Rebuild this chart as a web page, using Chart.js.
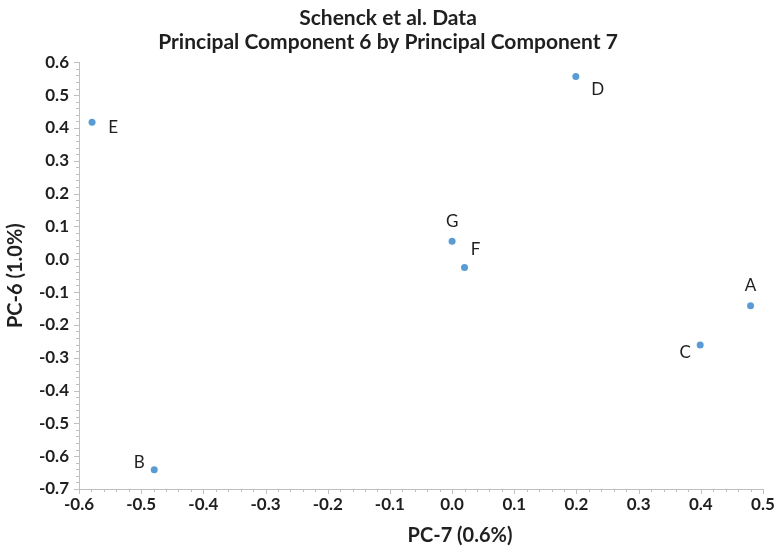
<!DOCTYPE html>
<html>
<head>
<meta charset="utf-8">
<script src="https://cdn.jsdelivr.net/npm/chart.js@4.4.1/dist/chart.umd.min.js"></script>
<style>
  html, body { margin: 0; padding: 0; background: #ffffff; }
  #wrap { width: 776px; height: 547px; position: relative; }
</style>
</head>
<body>
<div id="wrap"><canvas id="c" width="776" height="547"></canvas></div>
<script>
// Sample labels and their principal component scores
const sampleLabels = ['A', 'B', 'C', 'D', 'E', 'F', 'G'];
const pc7Scores = [0.480, -0.479, 0.399, 0.199, -0.579, 0.020, 0.000];
const pc6Scores = [-0.142, -0.641, -0.261, 0.557, 0.417, -0.025, 0.055];

const xTickRange = { min: -0.6, max: 0.5, step: 0.1 };
const yTickRange = { min: -0.7, max: 0.6, step: 0.1 };

const titleLines = ['Schenck et al. Data', 'Principal Component 6 by Principal Component 7'];
const xAxisTitle = 'PC-7 (0.6%)';
const yAxisTitle = 'PC-6 (1.0%)';

// Where each data label sits relative to its marker
const labelPlacement = { A: 'above', B: 'upleft', C: 'downleft', D: 'downright', E: 'right', F: 'upright', G: 'above' };

const FONT = "Lato, 'Open Sans', 'DejaVu Sans', sans-serif";
const AXIS_GRAY = '#bfbfbf';
const TEXT = '#1f1f1f';

const points = sampleLabels.map((l, i) => ({ x: pc7Scores[i], y: pc6Scores[i], label: l }));

// Minor tick marks, axis titles and point labels
const decorations = {
  id: 'decorations',
  afterDraw(chart) {
    const ctx = chart.ctx;
    const xs = chart.scales.x, ys = chart.scales.y;
    const area = chart.chartArea;
    ctx.save();
    ctx.strokeStyle = AXIS_GRAY;
    ctx.lineWidth = 1;
    // x-axis ticks (major every 0.1, minor every 0.02)
    const nx = Math.round((xTickRange.max - xTickRange.min) / 0.02);
    for (let i = 0; i <= nx; i++) {
      const v = xTickRange.min + i * 0.02;
      const px = Math.round(xs.getPixelForValue(v)) + 0.5;
      const len = (i % 5 === 0) ? 5 : 3;
      ctx.beginPath();
      ctx.moveTo(px, area.bottom);
      ctx.lineTo(px, area.bottom + len);
      ctx.stroke();
    }
    const ny = Math.round((yTickRange.max - yTickRange.min) / 0.02);
    for (let i = 0; i <= ny; i++) {
      const v = yTickRange.min + i * 0.02;
      const py = Math.round(ys.getPixelForValue(v)) + 0.5;
      const len = (i % 5 === 0) ? 5 : 3;
      ctx.beginPath();
      ctx.moveTo(area.left, py);
      ctx.lineTo(area.left - len, py);
      ctx.stroke();
    }

    // axis titles
    ctx.fillStyle = TEXT;
    ctx.font = 'bold 20px ' + FONT;
    ctx.textAlign = 'center';
    ctx.textBaseline = 'middle';
    ctx.fillText(xAxisTitle, area.left + (area.right - area.left) * 0.557, 536);
    ctx.save();
    ctx.translate(16, (area.top + area.bottom) / 2);
    ctx.rotate(-Math.PI / 2);
    ctx.fillText(yAxisTitle, 0, 0);
    ctx.restore();

    // point labels
    ctx.font = '17px ' + FONT;
    const offsets = {
      above: [0, -20], upleft: [-15, -7], downleft: [-15, 8], downright: [22, 13],
      right: [21, 5], upright: [11, -18]
    };
    const meta = chart.getDatasetMeta(0);
    meta.data.forEach((el, i) => {
      const lbl = points[i].label;
      const off = offsets[labelPlacement[lbl]];
      ctx.fillText(lbl, el.x + off[0], el.y + off[1]);
    });
    ctx.restore();
  }
};

new Chart(document.getElementById('c'), {
  type: 'scatter',
  data: {
    datasets: [{
      data: points,
      backgroundColor: '#5b9bd5',
      borderColor: '#5b9bd5',
      pointRadius: 3.5,
      pointHoverRadius: 3.5,
      borderWidth: 0
    }]
  },
  options: {
    responsive: false,
    animation: false,
    devicePixelRatio: 1,
    layout: { padding: { left: 0, right: 0, top: 0, bottom: 0 } },
    plugins: {
      legend: { display: false },
      tooltip: { enabled: false },
      title: {
        display: true,
        text: titleLines,
        color: TEXT,
        font: { family: FONT, size: 21, weight: 'bold', lineHeight: 1.15 },
        padding: { top: 6, bottom: 8 }
      }
    },
    scales: {
      x: {
        type: 'linear',
        min: xTickRange.min,
        max: xTickRange.max,
        afterFit(scale) { scale.height = 58; scale.paddingRight = 13; },
        border: { display: true, color: AXIS_GRAY, width: 1 },
        grid: { display: false, drawTicks: false },
        ticks: {
          stepSize: xTickRange.step,
          padding: 5,
          color: TEXT,
          font: { family: FONT, size: 17, weight: 'bold' },
          maxRotation: 0,
          callback: v => (Math.abs(v) < 1e-9 ? 0 : v).toFixed(1)
        }
      },
      y: {
        type: 'linear',
        min: yTickRange.min,
        max: yTickRange.max,
        afterFit(scale) { scale.width = 79; },
        border: { display: true, color: AXIS_GRAY, width: 1 },
        grid: { display: false, drawTicks: false },
        ticks: {
          stepSize: yTickRange.step,
          padding: 10,
          color: TEXT,
          font: { family: FONT, size: 17, weight: 'bold' },
          callback: v => (Math.abs(v) < 1e-9 ? 0 : v).toFixed(1)
        }
      }
    }
  },
  plugins: [decorations]
});
</script>
</body>
</html>
